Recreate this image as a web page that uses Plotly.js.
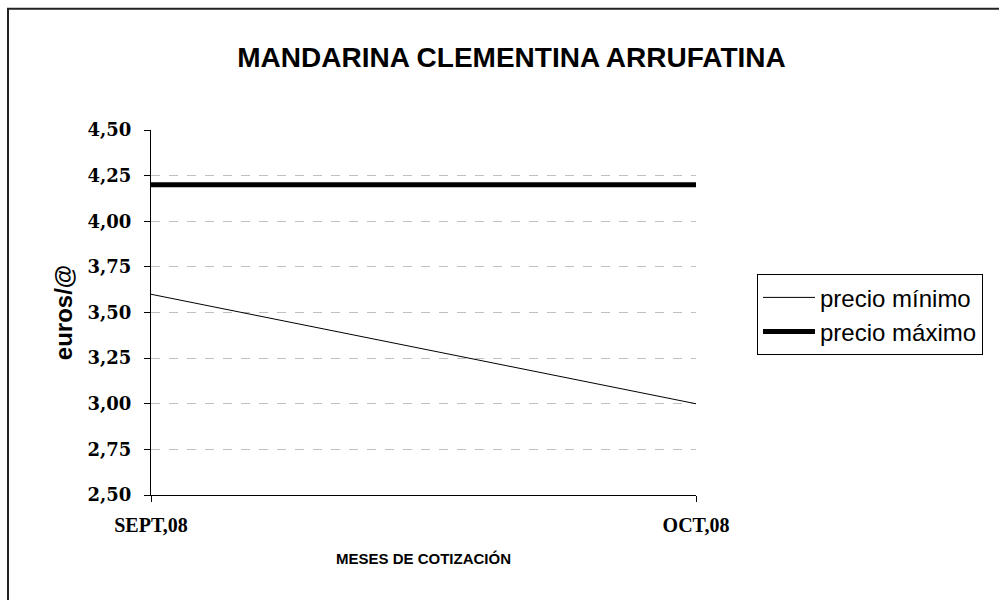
<!DOCTYPE html>
<html>
<head>
<meta charset="utf-8">
<script src="https://cdn.plot.ly/plotly-3.0.1.min.js"></script>
<style>
html,body{margin:0;padding:0;background:#fff;}
#chart{width:999px;height:600px;}
</style>
</head>
<body>
<div id="chart"></div>
<script>
const months = ["SEPT,08", "OCT,08"];
const precioMinimo = [3.60, 3.00];
const precioMaximo = [4.20, 4.20];
const yTicks = [2.50, 2.75, 3.00, 3.25, 3.50, 3.75, 4.00, 4.25, 4.50];

const L = 151, R = 696, T = 129.5, B = 495;
const W = 999, H = 600;
const px = v => (v - L) / (R - L);
const py = v => (B - v) / (B - T);

const traces = [
  {x: months, y: precioMinimo, name: "precio mínimo", type: "scatter", mode: "lines",
   line: {color: "#000", width: 1}},
  {x: months, y: precioMaximo, name: "precio máximo", type: "scatter", mode: "lines",
   line: {color: "#000", width: 5}}
];

const layout = {
  width: W, height: H,
  margin: {l: L, r: W - R, t: T, b: H - B, pad: 0},
  paper_bgcolor: "#fff", plot_bgcolor: "#fff",
  separators: ",.",
  showlegend: true,
  title: {text: "MANDARINA CLEMENTINA ARRUFATINA", x: 511.5 / W, xanchor: "center",
          y: 1 - 57 / H, yanchor: "middle",
          font: {family: "Liberation Sans, Arial, sans-serif", size: 28, color: "#000", weight: "bold"}},
  xaxis: {
    type: "category", range: [0, 1], showgrid: false, zeroline: false,
    showline: true, linecolor: "#000", linewidth: 1,
    ticks: "outside", ticklen: 6, tickcolor: "#000", ticklabelstandoff: 6,
    tickfont: {family: "Liberation Serif, Times New Roman, serif", size: 20, color: "#000", weight: "bold"},
    title: {text: "MESES DE COTIZACIÓN", standoff: 18,
            font: {family: "Liberation Sans, Arial, sans-serif", size: 15, color: "#000", weight: "bold"}},
    fixedrange: true
  },
  yaxis: {
    range: [2.5, 4.5], tickvals: yTicks, tickformat: ".2f",
    showgrid: true, gridcolor: "#c0c0c0", griddash: "dash", gridwidth: 1,
    zeroline: false, showline: true, linecolor: "#000", linewidth: 1,
    ticks: "outside", ticklen: 6, tickcolor: "#000", ticklabelstandoff: 9,
    tickfont: {family: "DejaVu Serif, serif", size: 18, color: "#000", weight: "bold"},
    title: {text: "euros/@", standoff: 8,
            font: {family: "Liberation Sans, Arial, sans-serif", size: 24, color: "#000", weight: "bold"}},
    fixedrange: true
  },
  legend: {
    x: px(757), y: py(274), xanchor: "left", yanchor: "top",
    bordercolor: "#000", borderwidth: 1, bgcolor: "#fff",
    font: {family: "Liberation Sans, Arial, sans-serif", size: 24, color: "#000"},
    itemwidth: 52,
    tracegroupgap: 0
  },
  shapes: [
    {type: "line", xref: "paper", yref: "paper", x0: px(8), x1: px(8), y0: py(8), y1: py(610),
     line: {color: "#222", width: 2}},
    {type: "line", xref: "paper", yref: "paper", x0: px(7), x1: px(1010), y0: py(8), y1: py(8),
     line: {color: "#222", width: 2}}
  ]
};

Plotly.newPlot("chart", traces, layout, {displayModeBar: false, staticPlot: true});
</script>
</body>
</html>
